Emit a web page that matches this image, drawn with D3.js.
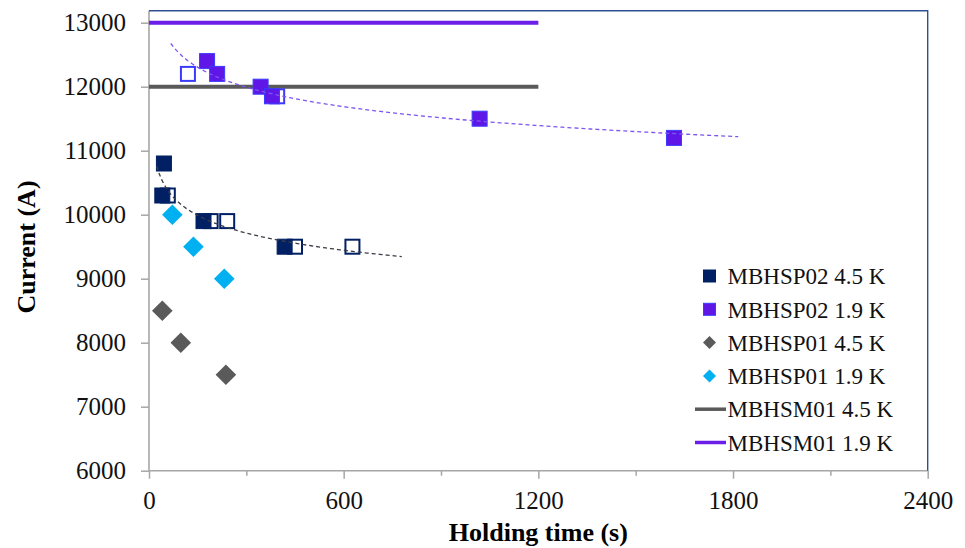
<!DOCTYPE html>
<html>
<head>
<meta charset="utf-8">
<script src="https://cdn.jsdelivr.net/npm/d3@7"></script>
<style>
  html, body { margin: 0; padding: 0; background: #fff; }
  svg { display: block; font-family: "Liberation Serif", "Times New Roman", serif; }
</style>
</head>
<body>
<svg id="chart" width="965" height="548"></svg>
<script>
// Holding time (s) and current (A) for each magnet / temperature
const p02_45_filledTime = [46, 41, 168, 418];
const p02_45_filledCurr = [10800, 10300, 9900, 9500];
const p02_45_openTime   = [58, 190, 241, 450, 627];
const p02_45_openCurr   = [10300, 9900, 9900, 9500, 9500];

const p02_19_filledTime = [179, 210, 344, 379, 1019, 1618];
const p02_19_filledCurr = [12400, 12200, 12000, 11850, 11500, 11200];
const p02_19_openTime   = [120, 395];
const p02_19_openCurr   = [12200, 11850];

const p01_45_time = [41, 98, 237];
const p01_45_curr = [8500, 8000, 7500];
const p01_19_time = [72, 137, 232];
const p01_19_curr = [10000, 9500, 9000];

// MBHSM01 reference levels, held over the same time span
const sm01Span = [0, 1200];
const sm01_45_level = [12000, 12000];
const sm01_19_level = [13000, 13000];

// Extents of the power-law trend lines
const trend45Span = [24, 779];
const trend19Span = [67, 1816];

const xTicks = [0, 600, 1200, 1800, 2400];
const xMinorTicks = [300, 900, 1500, 2100];
const yTicks = [6000, 7000, 8000, 9000, 10000, 11000, 12000, 13000];

const legendLabels = ["MBHSP02 4.5 K", "MBHSP02 1.9 K", "MBHSP01 4.5 K",
                      "MBHSP01 1.9 K", "MBHSM01 4.5 K", "MBHSM01 1.9 K"];

const C = {
  navy: "#012063",
  purple: "#5f17e8",
  purpleEdge: "#3b3bff",
  gray: "#5a5a5a",
  cyan: "#00b0f0",
  line19: "#6a1ee8",
  axis: "#a6a6a6",
  frame: "#2f5090"
};

const svg = d3.select("#chart");
const plotLeft = 149, plotRight = 927.7, plotTop = 10.7, plotBottom = 470.7;

const x = d3.scaleLinear().domain([0, 2400]).range([plotLeft, plotRight]);
const y = d3.scaleLinear().domain([6000, 13000]).range([plotBottom, 22.7]);

const zip = (a, b) => a.map((v, i) => [v, b[i]]);

// Axes
const yAxis = d3.axisLeft(y).tickValues(yTicks).tickSize(8).tickPadding(15)
  .tickFormat(d3.format("d"));
const gy = svg.append("g").attr("transform", `translate(${plotLeft},0)`).call(yAxis);
gy.select(".domain").remove();
gy.selectAll(".tick line").attr("stroke", C.axis).attr("stroke-width", 1.5);
gy.selectAll(".tick text").attr("font-size", 25).attr("fill", "#111")
  .attr("font-family", "Liberation Serif");

const xAxis = d3.axisBottom(x).tickValues(xTicks).tickSize(8).tickPadding(13)
  .tickFormat(d3.format("d"));
const gx = svg.append("g").attr("transform", `translate(0,${plotBottom})`).call(xAxis);
gx.select(".domain").remove();
gx.selectAll(".tick line").attr("stroke", C.axis).attr("stroke-width", 1.5);
gx.selectAll(".tick text").attr("font-size", 25).attr("fill", "#111")
  .attr("font-family", "Liberation Serif");

const xMinor = d3.axisBottom(x).tickValues(xMinorTicks).tickSize(5).tickFormat("");
const gxm = svg.append("g").attr("transform", `translate(0,${plotBottom})`).call(xMinor);
gxm.select(".domain").remove();
gxm.selectAll(".tick line").attr("stroke", C.axis).attr("stroke-width", 1.5);

// Plot frame: gray axes on the left/bottom, blue border on the top/right
svg.append("line").attr("x1", plotLeft).attr("x2", plotLeft).attr("y1", plotTop).attr("y2", plotBottom)
  .attr("stroke", C.axis).attr("stroke-width", 1.6);
svg.append("line").attr("x1", plotLeft).attr("x2", plotRight).attr("y1", plotBottom).attr("y2", plotBottom)
  .attr("stroke", C.axis).attr("stroke-width", 1.6);
svg.append("path")
  .attr("d", `M${plotLeft},${plotTop}H${plotRight}V${plotBottom}`)
  .attr("fill", "none").attr("stroke", C.frame).attr("stroke-width", 1.4);

// Axis titles
svg.append("text").attr("x", (plotLeft + plotRight) / 2).attr("y", 541)
  .attr("text-anchor", "middle").attr("font-size", 26).attr("font-weight", "bold")
  .attr("fill", "#000").text("Holding time (s)");
svg.append("text").attr("transform", "translate(35,247) rotate(-90)")
  .attr("text-anchor", "middle").attr("font-size", 26).attr("font-weight", "bold")
  .attr("fill", "#000").text("Current (A)");

// MBHSM01 horizontal levels
const lineGen = d3.line().x(d => x(d[0])).y(d => y(d[1]));
svg.append("path").datum(zip(sm01Span, sm01_45_level)).attr("d", lineGen)
  .attr("fill", "none").attr("stroke", C.gray).attr("stroke-width", 4);
svg.append("path").datum(zip(sm01Span, sm01_19_level)).attr("d", lineGen)
  .attr("fill", "none").attr("stroke", C.line19).attr("stroke-width", 4);

// Markers
function squares(data, fill, stroke, open) {
  const s = open ? 14 : 15;
  svg.append("g").selectAll("rect").data(data).join("rect")
    .attr("x", d => x(d[0]) - s / 2).attr("y", d => y(d[1]) - s / 2)
    .attr("width", s).attr("height", s)
    .attr("fill", open ? "#fff" : fill)
    .attr("stroke", stroke).attr("stroke-width", open ? 2 : 1);
}
function diamonds(data, fill, r) {
  svg.append("g").selectAll("path").data(data).join("path")
    .attr("d", d => {
      const cx = x(d[0]), cy = y(d[1]);
      return `M${cx},${cy - r}L${cx + r},${cy}L${cx},${cy + r}L${cx - r},${cy}Z`;
    })
    .attr("fill", fill);
}

diamonds(zip(p01_45_time, p01_45_curr), C.gray, 10.3);
diamonds(zip(p01_19_time, p01_19_curr), C.cyan, 10.3);
squares(zip(p02_45_openTime, p02_45_openCurr), null, C.navy, true);
squares(zip(p02_19_openTime, p02_19_openCurr), null, C.purpleEdge, true);
squares(zip(p02_45_filledTime, p02_45_filledCurr), C.navy, C.navy, false);
squares(zip(p02_19_filledTime, p02_19_filledCurr), C.purple, C.purpleEdge, false);

// Power-law trend (least squares in log-log space) over all points of a series
function powerFit(ts, cs) {
  const lx = ts.map(Math.log), ly = cs.map(Math.log);
  const mx = d3.mean(lx), my = d3.mean(ly);
  const b = d3.sum(lx, (v, i) => (v - mx) * (ly[i] - my)) / d3.sum(lx, v => (v - mx) ** 2);
  const a = Math.exp(my - b * mx);
  return t => a * Math.pow(t, b);
}
function trend(ts, cs, span, color) {
  const f = powerFit(ts, cs);
  const pts = d3.range(0, 101).map(i => {
    const t = span[0] + (span[1] - span[0]) * i / 100;
    return [t, f(t)];
  });
  svg.append("path").datum(pts).attr("d", lineGen)
    .attr("fill", "none").attr("stroke", color).attr("stroke-width", 1.3)
    .attr("stroke-dasharray", "4,3");
}
trend(p02_45_filledTime.concat(p02_45_openTime), p02_45_filledCurr.concat(p02_45_openCurr),
      trend45Span, "#3c3c46");
trend(p02_19_filledTime.concat(p02_19_openTime), p02_19_filledCurr.concat(p02_19_openCurr),
      trend19Span, "#7d55f0");

// Legend
const legend = svg.append("g");
const rowY = i => 276 + i * 33.3;
const mx = 709.5;
legendLabels.forEach((label, i) => {
  const cy = rowY(i);
  if (i === 0) {
    legend.append("rect").attr("x", mx - 6.5).attr("y", cy - 6.5).attr("width", 13).attr("height", 13)
      .attr("fill", C.navy);
  } else if (i === 1) {
    legend.append("rect").attr("x", mx - 6).attr("y", cy - 6).attr("width", 12).attr("height", 12)
      .attr("fill", C.purple).attr("stroke", C.purpleEdge).attr("stroke-width", 1);
  } else if (i === 2 || i === 3) {
    const r = 6.5;
    legend.append("path")
      .attr("d", `M${mx},${cy - r}L${mx + r},${cy}L${mx},${cy + r}L${mx - r},${cy}Z`)
      .attr("fill", i === 2 ? C.gray : C.cyan);
  } else {
    legend.append("line").attr("x1", 695).attr("x2", 726).attr("y1", cy).attr("y2", cy)
      .attr("stroke", i === 4 ? C.gray : C.line19).attr("stroke-width", 3.5);
  }
  legend.append("text").attr("x", 727.5).attr("y", cy + 8.2)
    .attr("font-size", 23).attr("fill", "#111").text(label);
});
</script>
</body>
</html>
